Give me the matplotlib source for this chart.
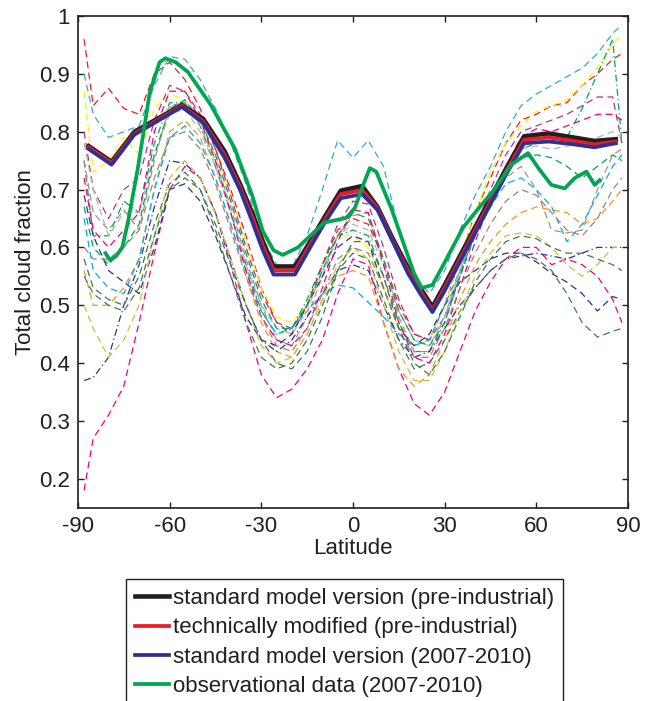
import numpy as np
import matplotlib
matplotlib.use('Agg')
import matplotlib.pyplot as plt

plt.rcParams['font.family'] = ['Liberation Sans', 'DejaVu Sans']
plt.rcParams['axes.unicode_minus'] = False

# common latitude grid of the model ensemble (dashed lines)
lat = [-88, -85, -80, -75, -70, -65, -60, -55, -50, -45, -40, -35, -30, -25, -20, -15, -10, -5, 0,
       5, 10, 15, 20, 25, 30, 35, 40, 45, 50, 55, 60, 65, 70, 75, 80, 85, 88]

m01 = [0.90, 0.83, 0.79, 0.80, 0.81, 0.88, 0.93, 0.925, 0.89, 0.84, 0.78, 0.71, 0.62, 0.57, 0.565, 0.62, 0.70, 0.785, 0.755,
       0.785, 0.74, 0.63, 0.55, 0.52, 0.56, 0.63, 0.69, 0.74, 0.80, 0.845, 0.865, 0.88, 0.895, 0.91, 0.935, 0.97, 0.985]
m02 = [0.96, 0.845, 0.875, 0.84, 0.83, 0.90, 0.92, 0.89, 0.84, 0.77, 0.70, 0.62, 0.53, 0.47, 0.45, 0.50, 0.57, 0.63, 0.65,
       0.64, 0.58, 0.50, 0.45, 0.44, 0.50, 0.58, 0.66, 0.72, 0.78, 0.82, 0.83, 0.845, 0.85, 0.88, 0.90, 0.925, 0.935]
m03 = [0.87, 0.73, 0.75, 0.79, 0.76, 0.84, 0.865, 0.855, 0.82, 0.76, 0.69, 0.61, 0.53, 0.48, 0.47, 0.50, 0.56, 0.62, 0.62,
       0.60, 0.53, 0.46, 0.43, 0.44, 0.50, 0.58, 0.66, 0.73, 0.78, 0.81, 0.835, 0.845, 0.855, 0.88, 0.91, 0.95, 0.97]
m04 = [0.75, 0.62, 0.62, 0.68, 0.66, 0.78, 0.85, 0.85, 0.81, 0.74, 0.66, 0.57, 0.49, 0.45, 0.46, 0.51, 0.57, 0.62, 0.63,
       0.62, 0.55, 0.47, 0.42, 0.42, 0.47, 0.55, 0.63, 0.69, 0.74, 0.77, 0.78, 0.785, 0.79, 0.84, 0.90, 0.96, 0.78]
m05 = [0.18, 0.27, 0.31, 0.36, 0.47, 0.59, 0.70, 0.74, 0.72, 0.66, 0.57, 0.47, 0.38, 0.34, 0.355, 0.39, 0.44, 0.52, 0.58,
       0.57, 0.47, 0.39, 0.33, 0.31, 0.35, 0.42, 0.49, 0.54, 0.58, 0.60, 0.60, 0.57, 0.58, 0.57, 0.55, 0.51, 0.47]
m06 = [0.80, 0.70, 0.65, 0.70, 0.72, 0.82, 0.88, 0.87, 0.83, 0.77, 0.69, 0.60, 0.52, 0.47, 0.46, 0.50, 0.57, 0.64, 0.68,
       0.675, 0.60, 0.51, 0.45, 0.44, 0.48, 0.55, 0.63, 0.70, 0.76, 0.80, 0.81, 0.82, 0.83, 0.845, 0.86, 0.86, 0.78]
m07 = [0.56, 0.50, 0.50, 0.53, 0.58, 0.70, 0.80, 0.82, 0.79, 0.72, 0.64, 0.55, 0.47, 0.42, 0.41, 0.45, 0.51, 0.55, 0.56,
       0.55, 0.47, 0.39, 0.36, 0.38, 0.44, 0.51, 0.57, 0.61, 0.64, 0.66, 0.67, 0.665, 0.66, 0.64, 0.65, 0.68, 0.70]
m08 = [0.75, 0.66, 0.63, 0.665, 0.63, 0.75, 0.845, 0.85, 0.81, 0.75, 0.67, 0.58, 0.50, 0.44, 0.43, 0.48, 0.55, 0.62, 0.655,
       0.66, 0.58, 0.48, 0.42, 0.42, 0.48, 0.56, 0.63, 0.68, 0.72, 0.74, 0.70, 0.63, 0.625, 0.63, 0.70, 0.76, 0.77]
m09 = [0.37, 0.375, 0.41, 0.50, 0.57, 0.67, 0.75, 0.745, 0.72, 0.66, 0.58, 0.50, 0.44, 0.42, 0.44, 0.48, 0.52, 0.56, 0.57,
       0.56, 0.50, 0.44, 0.41, 0.42, 0.46, 0.50, 0.53, 0.56, 0.58, 0.585, 0.59, 0.585, 0.58, 0.59, 0.60, 0.60, 0.60]
m10 = [0.69, 0.62, 0.56, 0.54, 0.52, 0.60, 0.70, 0.71, 0.68, 0.62, 0.55, 0.48, 0.44, 0.43, 0.45, 0.50, 0.55, 0.60, 0.62,
       0.61, 0.53, 0.46, 0.43, 0.45, 0.50, 0.54, 0.56, 0.58, 0.59, 0.59, 0.575, 0.555, 0.54, 0.52, 0.49, 0.515, 0.51]
m11 = [0.58, 0.53, 0.51, 0.50, 0.55, 0.64, 0.71, 0.73, 0.70, 0.63, 0.55, 0.47, 0.41, 0.39, 0.40, 0.44, 0.50, 0.56, 0.59,
       0.58, 0.51, 0.44, 0.39, 0.40, 0.44, 0.49, 0.53, 0.56, 0.58, 0.59, 0.58, 0.56, 0.52, 0.47, 0.445, 0.455, 0.46]
m12 = [0.50, 0.46, 0.41, 0.44, 0.50, 0.62, 0.72, 0.75, 0.72, 0.66, 0.58, 0.50, 0.43, 0.40, 0.41, 0.45, 0.51, 0.57, 0.60,
       0.58, 0.50, 0.42, 0.37, 0.37, 0.42, 0.49, 0.55, 0.59, 0.62, 0.625, 0.62, 0.60, 0.57, 0.55, 0.57, 0.60, 0.60]
m13 = [0.65, 0.56, 0.53, 0.52, 0.58, 0.70, 0.79, 0.81, 0.78, 0.72, 0.64, 0.56, 0.49, 0.45, 0.46, 0.49, 0.52, 0.535, 0.53,
       0.505, 0.48, 0.45, 0.43, 0.44, 0.50, 0.56, 0.62, 0.67, 0.71, 0.72, 0.70, 0.67, 0.61, 0.64, 0.69, 0.74, 0.76]
m14 = [0.78, 0.70, 0.62, 0.66, 0.66, 0.76, 0.83, 0.84, 0.80, 0.74, 0.66, 0.57, 0.50, 0.46, 0.45, 0.49, 0.56, 0.62, 0.64,
       0.63, 0.57, 0.49, 0.44, 0.43, 0.48, 0.56, 0.63, 0.69, 0.74, 0.77, 0.775, 0.77, 0.775, 0.78, 0.79, 0.80, 0.79]
m15 = [0.67, 0.60, 0.57, 0.60, 0.64, 0.76, 0.84, 0.855, 0.82, 0.76, 0.68, 0.59, 0.51, 0.46, 0.46, 0.50, 0.56, 0.62, 0.66,
       0.65, 0.58, 0.49, 0.44, 0.43, 0.47, 0.55, 0.62, 0.68, 0.73, 0.755, 0.76, 0.755, 0.74, 0.72, 0.74, 0.76, 0.75]
m16 = [0.72, 0.63, 0.60, 0.63, 0.66, 0.80, 0.87, 0.87, 0.82, 0.75, 0.66, 0.56, 0.48, 0.44, 0.43, 0.46, 0.53, 0.61, 0.665,
       0.66, 0.57, 0.47, 0.41, 0.40, 0.45, 0.53, 0.61, 0.68, 0.74, 0.79, 0.805, 0.80, 0.81, 0.82, 0.83, 0.83, 0.82]
m17 = [0.60, 0.58, 0.58, 0.60, 0.63, 0.72, 0.79, 0.80, 0.77, 0.71, 0.63, 0.55, 0.48, 0.43, 0.42, 0.46, 0.52, 0.58, 0.60,
       0.59, 0.53, 0.46, 0.41, 0.41, 0.46, 0.53, 0.59, 0.64, 0.68, 0.70, 0.69, 0.66, 0.63, 0.62, 0.65, 0.70, 0.72]
m18 = [0.55, 0.52, 0.50, 0.49, 0.53, 0.62, 0.70, 0.72, 0.70, 0.64, 0.57, 0.50, 0.44, 0.40, 0.39, 0.42, 0.48, 0.56, 0.61,
       0.61, 0.55, 0.46, 0.40, 0.38, 0.42, 0.48, 0.54, 0.58, 0.61, 0.62, 0.615, 0.60, 0.59, 0.59, 0.58, 0.57, 0.56]

ens = [m01, m02, m03, m04, m05, m06, m07, m08, m09, m10, m11, m12, m13, m14, m15, m16, m17, m18]
ens_col = ['#29abe2', '#ed1c24', '#fff200', '#00a651', '#ec008c', '#b5338a', '#f7941d', '#a6937c', '#2e3192',
           '#2e3192', '#3b7d4f', '#c4c43a', '#00aeef', '#b3b3b3', '#00a651', '#ec008c', '#998675', '#3b7d4f']
ens_ls = ['--', '--', '--', '-.', '--', '--', '--', '--', '-.', '--', '--', '--', '--', '--', '--', '--', '--', '--']

# main model runs
lat_m = [-86.5, -79, -71.5, -56, -49, -42, -37, -33, -29.5, -26, -19, -14, -9, -4, 3, 8, 13, 18, 22, 26,
         30, 35, 40, 45, 50, 56, 64, 71, 79, 86]
std_pi = [0.775, 0.748, 0.80, 0.846, 0.822, 0.766, 0.71, 0.66, 0.61, 0.567, 0.567, 0.61, 0.655, 0.698, 0.706,
          0.67, 0.615, 0.565, 0.53, 0.497, 0.535, 0.585, 0.635, 0.685, 0.735, 0.792, 0.797, 0.791, 0.784, 0.787]
mod_pi = [0.773, 0.746, 0.797, 0.845, 0.818, 0.76, 0.705, 0.653, 0.603, 0.56, 0.56, 0.605, 0.65, 0.692, 0.699,
          0.668, 0.612, 0.56, 0.525, 0.492, 0.53, 0.58, 0.63, 0.68, 0.73, 0.786, 0.79, 0.785, 0.778, 0.783]
std_pd = [0.77, 0.743, 0.795, 0.843, 0.815, 0.755, 0.70, 0.645, 0.595, 0.553, 0.553, 0.60, 0.645, 0.685, 0.692,
          0.665, 0.61, 0.555, 0.52, 0.488, 0.525, 0.575, 0.625, 0.675, 0.725, 0.78, 0.783, 0.779, 0.773, 0.78]

# observations
lat_o = [-81, -79.5, -77.5, -75.5, -73.6, -70.4, -66.5, -63.3, -61.4, -58, -54, -46.5, -38.7, -33, -29.5, -26,
         -23, -18, -13, -9.3, -2.2, 0.6, 3.5, 5.5, 7.6, 10, 12.5, 17, 20, 22.5, 26, 29.6, 32, 36, 40.4, 45.8,
         51.8, 57.3, 61.1, 64.9, 69.3, 72.6, 76.4, 79.1, 80.7]
obs = [0.59, 0.578, 0.585, 0.60, 0.645, 0.737, 0.868, 0.92, 0.927, 0.92, 0.903, 0.846, 0.771, 0.69, 0.628, 0.595,
       0.587, 0.60, 0.625, 0.643, 0.651, 0.668, 0.71, 0.737, 0.731, 0.70, 0.668, 0.60, 0.555, 0.53, 0.535, 0.57,
       0.594, 0.634, 0.663, 0.697, 0.743, 0.763, 0.734, 0.708, 0.702, 0.72, 0.731, 0.708, 0.716]

labels = ['standard model version (pre-industrial)', 'technically modified (pre-industrial)',
          'standard model version (2007-2010)', 'observational data (2007-2010)']

fig = plt.figure(figsize=(6.53, 7.01), dpi=100)
ax = fig.add_axes([0.1194, 0.2757, 0.8423, 0.7015])

for y, c, ls in zip(ens, ens_col, ens_ls):
    line, = ax.plot(lat, y, color=c, lw=0.9)
    if ls == '--':
        line.set_dashes((5.5, 3.5))
    else:
        line.set_dashes((5.5, 2.5, 1, 2.5))

h1, = ax.plot(lat_m, std_pi, color='#231f20', lw=3.3)
h2, = ax.plot(lat_m, mod_pi, color='#ed1c24', lw=2.7)
h3, = ax.plot(lat_m, std_pd, color='#2e3192', lw=2.7)
h4, = ax.plot(lat_o, obs, color='#00a651', lw=2.7)

ax.set_xlim(-90, 90)
ax.set_ylim(0.15, 1)
ax.set_xticks(range(-90, 91, 30))
ax.set_yticks(np.arange(0.2, 1.01, 0.1))
ax.set_yticklabels(['0.2', '0.3', '0.4', '0.5', '0.6', '0.7', '0.8', '0.9', '1'])
ax.tick_params(direction='in', length=4, width=1, top=True, right=True, labelsize=16,
               colors='#231f20', pad=6)
for s in ax.spines.values():
    s.set_linewidth(1.2)
    s.set_color('#231f20')
ax.set_xlabel('Latitude', fontsize=16, color='#231f20', labelpad=1)
ax.set_ylabel('Total cloud fraction', fontsize=16, color='#231f20', labelpad=2)

leg = fig.legend([h1, h2, h3, h4], labels, loc='upper left', bbox_to_anchor=(126 / 653, 1 - 579 / 701),
                 fontsize=16, handlelength=1.55, handletextpad=0.15, labelspacing=0.38, borderpad=0.4,
                 borderaxespad=0, fancybox=False, framealpha=1, edgecolor='#231f20')
leg.get_frame().set_linewidth(1.0)
for t in leg.get_texts():
    t.set_color('#231f20')

fig.savefig('out.png', dpi=100)
